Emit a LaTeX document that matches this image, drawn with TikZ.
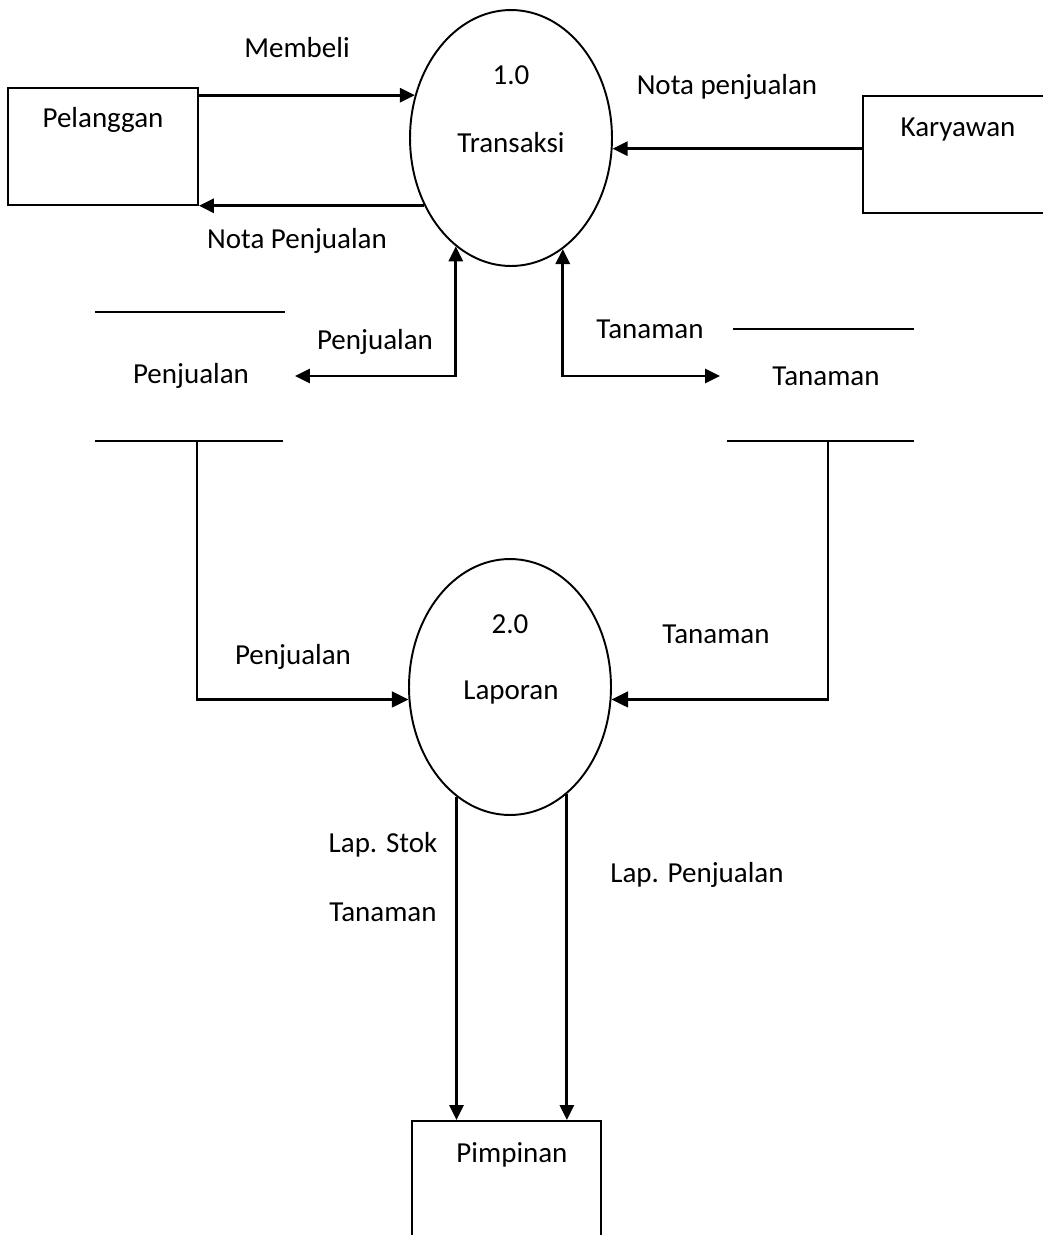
\documentclass[tikz,border=0pt]{standalone}
\usepackage{fontspec}
\setmainfont{Carlito}
\usetikzlibrary{shapes.geometric,arrows.meta}

\tikzset{
    lbl/.style={font=\fontsize{16.5}{20}\selectfont, inner sep=0pt, text height=0.7em, text depth=0.25em, yshift=-0.12cm},
    proc/.style={draw, line width=1.1pt, ellipse, inner sep=0pt, minimum width=4.04cm, minimum height=5.12cm},
    ent/.style={draw, line width=1.1pt, rectangle, inner sep=0pt},
    storeline/.style={line width=1.1pt},
    flow/.style={line width=1.6pt, -{Triangle[length=8.5pt,width=8pt]}},
    flowthin/.style={line width=1.3pt, -{Triangle[length=9.5pt,width=9pt]}},
    flowboth/.style={line width=1.6pt, {Triangle[length=8.5pt,width=8pt]}-{Triangle[length=8.5pt,width=8pt]}}
}

\begin{document}
\begin{tikzpicture}[x=0.02cm, y=-0.02cm]
\useasboundingbox (0,0) rectangle (1043,1235);

% processes
\node[proc] (trans) at (511,138) {};
\node[lbl] (transNum) at (511,75) {1.0};
\node[lbl] (transName) at (511,143) {Transaksi};
\node[proc] (lap) at (510,687) {};
\node[lbl] (lapNum) at (510,624) {2.0};
\node[lbl] (lapName) at (511,690) {Laporan};

% external entities
\node[ent, minimum width=3.8cm, minimum height=2.34cm] (pel) at (103,146.5) {};
\node[lbl] (pelName) at (103,118) {Pelanggan};
\node[ent, minimum width=4.0cm, minimum height=2.34cm, anchor=north west] (kar) at (862,95) {};
\node[lbl] (karName) at (958,127) {Karyawan};
\node[ent, minimum width=3.78cm, minimum height=4.0cm, anchor=north west] (pim) at (411,1120) {};
\node[lbl] (pimName) at (512,1153) {Pimpinan};

% data stores
\draw[storeline] (95,312) -- (285,312);
\draw[storeline] (95,441) -- (283,441);
\node[lbl] (dsPenj) at (191,374) {Penjualan};
\coordinate (dsPenjIn) at (295,376);
\coordinate (dsPenjOut) at (197,441);

\draw[storeline] (733,329) -- (914,329);
\draw[storeline] (727,441) -- (914,441);
\node[lbl] (dsTan) at (826,376) {Tanaman};
\coordinate (dsTanIn) at (720,376);
\coordinate (dsTanOut) at (828,441);

% flows
\draw[flow] (pel.east |- trans.156) -- (trans.156);
\draw[flow] (trans.218) -- (pel.east |- trans.218);
\draw[flow] (kar.west |- trans.354) -- (trans.354);
\draw[flowboth] (trans.243) |- (dsPenjIn);
\draw[flowboth] (trans.295) |- (dsTanIn);
\draw[flowthin] (dsPenjOut) |- (lap.187);
\draw[flowthin] (dsTanOut) |- (lap.353);
\draw[flow] (lap.244) -- (lap.244 |- pim.north);
\draw[flow] (lap.298) -- (lap.298 |- pim.north);

% flow labels
\node[lbl] (fMembeli) at (297,48) {Membeli};
\node[lbl] (fNotaP) at (297,239) {Nota Penjualan};
\node[lbl] (fNotaK) at (727,85) {Nota penjualan};
\node[lbl] (fPenj1) at (375,340) {Penjualan};
\node[lbl] (fTan1) at (650,329) {Tanaman};
\node[lbl] (fPenj2) at (293,655) {Penjualan};
\node[lbl] (fTan2) at (716,634) {Tanaman};
\node[lbl] (fStok1) at (383,843) {Lap. Stok};
\node[lbl] (fStok2) at (383,912) {Tanaman};
\node[lbl] (fLapP) at (697,873) {Lap. Penjualan};
\end{tikzpicture}
\end{document}
